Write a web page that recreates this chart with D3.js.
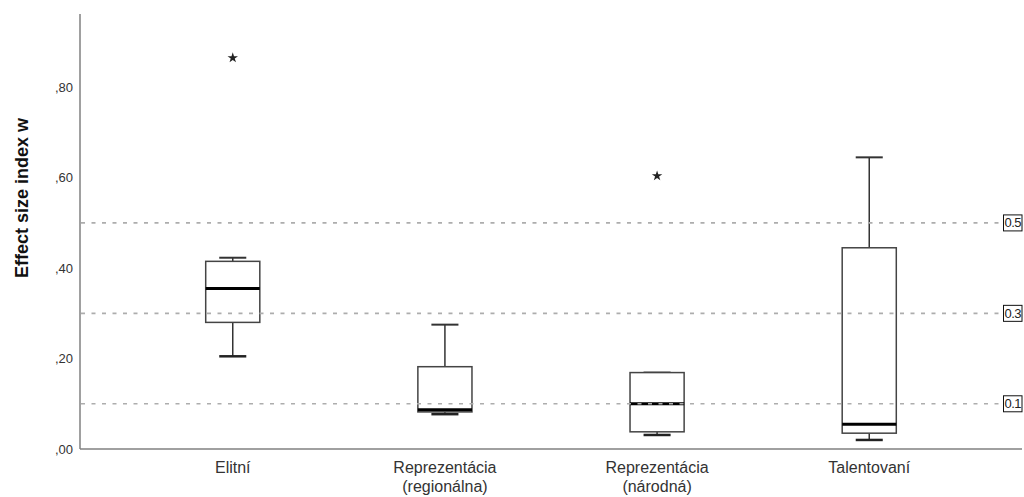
<!DOCTYPE html>
<html>
<head>
<meta charset="utf-8">
<script src="https://cdn.jsdelivr.net/npm/d3@7"></script>
<style>
  body { margin: 0; background: #fff; }
  svg { font-family: "Liberation Sans", Arial, sans-serif; }
</style>
</head>
<body>
<div id="chart"></div>
<script>
// chart values
const categories = ["Elitní", "Reprezentácia|(regionálna)", "Reprezentácia|(národná)", "Talentovaní"];
const lowWhisker = [0.205, 0.077, 0.031, 0.020];
const q1 = [0.280, 0.082, 0.038, 0.035];
const median = [0.355, 0.087, 0.100, 0.055];
const q3 = [0.415, 0.182, 0.169, 0.445];
const highWhisker = [0.423, 0.275, 0.169, 0.645];
const outliers = [[0, 0.865], [2, 0.604]];
const yTicks = [0, 0.2, 0.4, 0.6, 0.8];
const refLines = [0.1, 0.3, 0.5];
const refLabels = ["0.1", "0.3", "0.5"];

const width = 1024, height = 497;

let svg = d3.select("#chart")
    .append("svg")
    .attr("width", width)
    .attr("height", height);

// scales
let x = d3.scalePoint()
    .domain(categories)
    .range([80, 1022])
    .padding(0.72);
let y = d3.scaleLinear()
    .domain([0, 0.962])
    .range([449, 14]);

let boxW = x.step() * 0.255;
let capW = boxW / 2;

// axes lines
svg.append("line")
    .attr("x1", 80).attr("x2", 80)
    .attr("y1", y(0)).attr("y2", y.range()[1])
    .attr("stroke", "#808080").attr("stroke-width", 1.5);
svg.append("line")
    .attr("x1", 80).attr("x2", 1022)
    .attr("y1", y(0)).attr("y2", y(0))
    .attr("stroke", "#808080").attr("stroke-width", 1.5);

// y tick labels like ",80"
let fmt = v => d3.format(".2f")(v).replace(/^0/, "").replace(".", ",");
let yAxis = svg.append("g")
    .attr("transform", "translate(80,0)")
    .call(d3.axisLeft(y).tickValues(yTicks).tickFormat(fmt).tickSize(0).tickPadding(7));
yAxis.select(".domain").remove();
yAxis.selectAll("text")
    .style("font-family", "Liberation Sans, Arial, sans-serif")
    .style("font-size", "13px")
    .attr("fill", "#333");

// y axis title
svg.append("text")
    .attr("transform", `translate(28, 198) rotate(-90)`)
    .style("text-anchor", "middle")
    .style("font-size", "18px")
    .style("font-weight", "bold")
    .attr("fill", "#111")
    .text("Effect size index w");

// category labels
categories.forEach(function(c) {
    let lines = c.split("|");
    let t = svg.append("text")
        .attr("x", x(c))
        .attr("y", 473)
        .style("text-anchor", "middle")
        .style("font-size", "16px")
        .attr("fill", "#333");
    lines.forEach(function(l, i) {
        t.append("tspan")
            .attr("x", x(c))
            .attr("dy", i == 0 ? 0 : 18.5)
            .text(l);
    });
});

// boxes
let boxes = svg.selectAll(".box")
    .data(categories)
    .enter()
    .append("g")
    .attr("class", "box");

// whiskers
boxes.append("line")
    .attr("x1", d => x(d)).attr("x2", d => x(d))
    .attr("y1", (d, i) => y(highWhisker[i])).attr("y2", (d, i) => y(q3[i]))
    .attr("stroke", "#333").attr("stroke-width", 1.5);
boxes.append("line")
    .attr("x1", d => x(d)).attr("x2", d => x(d))
    .attr("y1", (d, i) => y(q1[i])).attr("y2", (d, i) => y(lowWhisker[i]))
    .attr("stroke", "#333").attr("stroke-width", 1.5);
boxes.append("line")
    .attr("x1", d => x(d) - capW / 2).attr("x2", d => x(d) + capW / 2)
    .attr("y1", (d, i) => y(highWhisker[i])).attr("y2", (d, i) => y(highWhisker[i]))
    .attr("stroke", "#333").attr("stroke-width", 2);
boxes.append("line")
    .attr("x1", d => x(d) - capW / 2).attr("x2", d => x(d) + capW / 2)
    .attr("y1", (d, i) => y(lowWhisker[i])).attr("y2", (d, i) => y(lowWhisker[i]))
    .attr("stroke", "#222").attr("stroke-width", 2.5);

boxes.append("rect")
    .attr("x", d => x(d) - boxW / 2)
    .attr("width", boxW)
    .attr("y", (d, i) => y(q3[i]))
    .attr("height", (d, i) => y(q1[i]) - y(q3[i]))
    .attr("fill", "#fff")
    .attr("stroke", "#444").attr("stroke-width", 1.5);

boxes.append("line")
    .attr("x1", d => x(d) - boxW / 2).attr("x2", d => x(d) + boxW / 2)
    .attr("y1", (d, i) => y(median[i])).attr("y2", (d, i) => y(median[i]))
    .attr("stroke", "#000").attr("stroke-width", 3);

// outliers
svg.selectAll(".outlier")
    .data(outliers)
    .enter()
    .append("path")
    .attr("class", "outlier")
    .attr("d", d3.symbol().type(d3.symbolStar).size(34))
    .attr("transform", d => `translate(${x(categories[d[0]])}, ${y(d[1])})`)
    .attr("fill", "#222");

// reference lines on top
svg.selectAll(".ref")
    .data(refLines)
    .enter()
    .append("line")
    .attr("class", "ref")
    .attr("x1", 81).attr("x2", 1003)
    .attr("y1", d => y(d)).attr("y2", d => y(d))
    .attr("stroke", "#adadad")
    .attr("stroke-width", 1.6)
    .attr("stroke-dasharray", "4,6.5");

// reference labels
let refG = svg.selectAll(".reflabel")
    .data(refLines)
    .enter()
    .append("g")
    .attr("class", "reflabel");
refG.append("rect")
    .attr("x", 1003.5).attr("width", 18.5)
    .attr("y", d => y(d) - 8).attr("height", 16)
    .attr("fill", "#fff")
    .attr("stroke", "#111").attr("stroke-width", 1);
refG.append("text")
    .attr("x", 1012.8)
    .attr("y", d => y(d) + 4.5)
    .style("text-anchor", "middle")
    .style("font-size", "13px")
    .style("letter-spacing", "-0.5px")
    .attr("fill", "#222")
    .text((d, i) => refLabels[i]);
</script>
</body>
</html>
